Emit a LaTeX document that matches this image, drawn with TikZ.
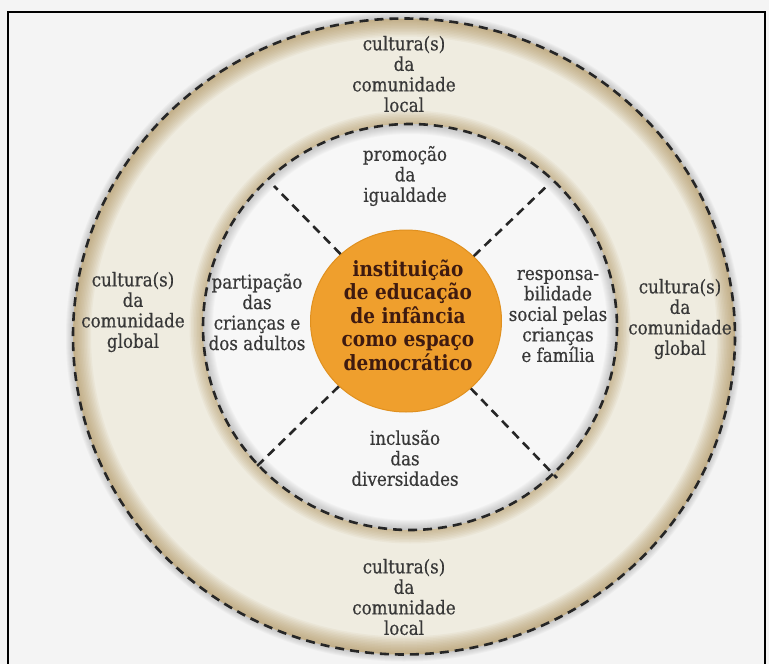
\documentclass[tikz,border=0pt]{standalone}
\usepackage{fontspec}
\setmainfont{DejaVu Serif}[FakeStretch=0.88, UprightFeatures={FakeBold=0.5}]
\usetikzlibrary{shapes.geometric}
\definecolor{bgcol}{HTML}{F4F4F4}
\definecolor{discol}{HTML}{F7F7F7}
\definecolor{ringcol}{HTML}{EFECE0}
\definecolor{burncol}{HTML}{A8884E}
\definecolor{shadcol}{HTML}{707070}
\definecolor{orangecol}{HTML}{EF9F2D}
\definecolor{orangerim}{HTML}{E0901F}
\definecolor{orangetext}{HTML}{3E1A10}
\definecolor{txtcol}{HTML}{383838}
\definecolor{dashcol}{HTML}{262626}
\begin{document}
\begin{tikzpicture}[x=1pt,y=-1pt,
  lbl/.style={align=center, text=txtcol, font=\fontsize{19}{20.5}\selectfont, inner sep=0pt},
  coretxt/.style={align=center, text=orangetext, font=\bfseries\fontsize{21}{23.5}\selectfont, inner sep=0pt},
  dashline/.style={draw=dashcol, line width=2.6pt, dash pattern=on 9pt off 6pt},
  outerell/.style={x radius=331, y radius=318},
  innerell/.style={x radius=207, y radius=203}]
\useasboundingbox (0,0) rectangle (769,664);
\fill[bgcol] (0,0) rectangle (769,664);
\draw[black, line width=1.2pt] (8,664) -- (8,12) -- (765,12) -- (765,664);
\coordinate (oc) at (404,336.5);
\coordinate (ic) at (410,327);
% shadow outside the ring
\begin{scope}[even odd rule]
\clip (0,0) rectangle (769,664) (oc) ellipse [outerell];
\foreach \w in {2,4,...,14} \draw[shadcol, line width=\w, draw opacity=0.05] (oc) ellipse [outerell];
\end{scope}
% ring
\begin{scope}[even odd rule]
\clip (oc) ellipse [outerell] (ic) ellipse [innerell];
\fill[ringcol] (0,0) rectangle (769,664);
\foreach \w in {3,6,...,36} \draw[burncol, line width=\w, draw opacity=0.065] (oc) ellipse [outerell];
\foreach \w in {3,6,...,27} \draw[burncol, line width=\w, draw opacity=0.065] (ic) ellipse [innerell];
\end{scope}
% inner disc
\begin{scope}
\clip (ic) ellipse [innerell];
\fill[discol] (0,0) rectangle (769,664);
\foreach \w in {2,4,...,20} \draw[shadcol, line width=\w, draw opacity=0.04] (ic) ellipse [innerell];
\end{scope}
\draw[dashline] (oc) ellipse [outerell];
\draw[dashline] (ic) ellipse [innerell];
% core
\node[ellipse, fill=orangecol, draw=orangerim, line width=1pt, minimum width=191, minimum height=182, inner sep=0pt] (core) at (406,321) {};
\coordinate (tl) at (274,186);
\coordinate (tr) at (549,184);
\coordinate (bl) at (254,469);
\coordinate (br) at (557,478);
\draw[dashline] (core) -- (tl);
\draw[dashline] (core) -- (tr);
\draw[dashline] (core) -- (bl);
\draw[dashline] (core) -- (br);
\node[coretxt] (ctext) at (408,315) {instituição\\de educação\\de infância\\como espaço\\democrático};
\node[lbl] (topc) at (404,74) {cultura(s)\\da\\comunidade\\local};
\node[lbl] (botc) at (404,597) {cultura(s)\\da\\comunidade\\local};
\node[lbl] (leftc) at (133,312) {cultura(s)\\da\\comunidade\\global};
\node[lbl] (rightc) at (680,319) {cultura(s)\\da\\comunidade\\global};
\node[lbl] (part) at (257,312) {partipação\\das\\crianças e\\dos adultos};
\node[lbl] (resp) at (558,316) {responsa-\\bilidade\\social pelas\\crianças\\e família};
\node[lbl] (prom) at (405,176) {promoção\\da\\igualdade};
\node[lbl] (incl) at (405,458) {inclusão\\das\\diversidades};
\end{tikzpicture}
\end{document}
